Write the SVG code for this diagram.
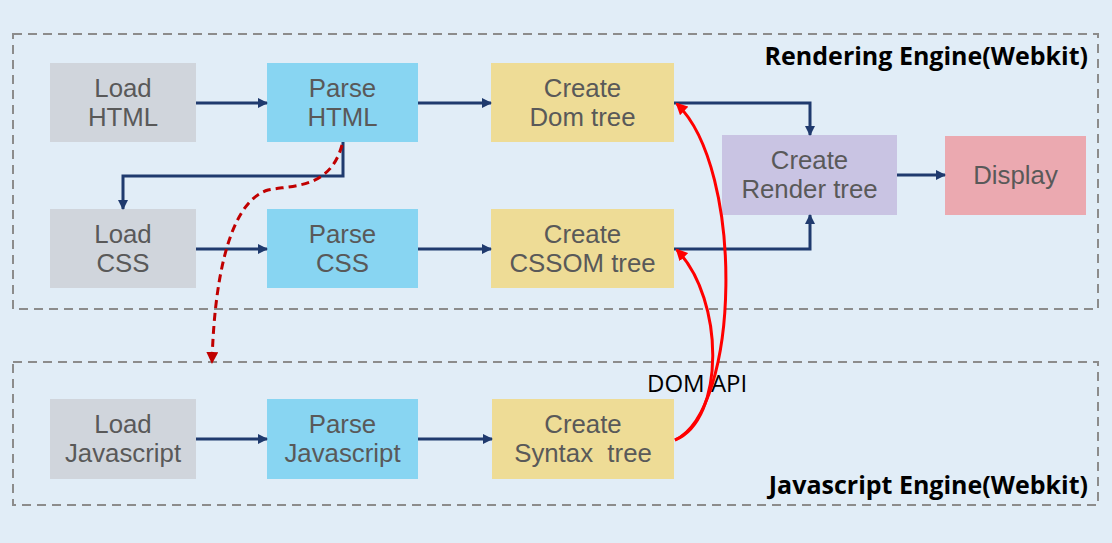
<svg xmlns="http://www.w3.org/2000/svg" width="1112" height="543" viewBox="0 0 1112 543">
<defs>
<style>
.frame{fill:none;stroke:#8c8c8c;stroke-width:2;stroke-dasharray:9 6}
.lbl{font-family:"Liberation Sans",Arial,sans-serif;font-size:25.8px;fill:#595959;text-anchor:middle}
.title{font-family:"Open Sans","Noto Sans",sans-serif;font-size:25px;font-weight:bold;fill:#000;text-anchor:end}
.api{font-family:"Open Sans","Noto Sans",sans-serif;font-size:24px;fill:#000}
.load{fill:#d0d5dc}
.parse{fill:#88d5f2}
.create{fill:#eedc96}
.render{fill:#c9c4e3}
.display{fill:#eba9b0}
.c{fill:none;stroke:#1f3a6e;stroke-width:3}
.red{fill:none;stroke:#ff0000;stroke-width:3}
.dash{fill:none;stroke:#c00000;stroke-width:3;stroke-dasharray:8 5}
</style>
<marker id="ah" markerWidth="10" markerHeight="10" refX="9" refY="5" orient="auto" markerUnits="userSpaceOnUse" viewBox="0 0 10 10"><path d="M0,0 L10,5 L0,10 z" fill="#1f3a6e"/></marker>
<marker id="ahr" markerWidth="12" markerHeight="12" refX="10" refY="6" orient="auto" markerUnits="userSpaceOnUse" viewBox="0 0 12 12"><path d="M0,0 L12,6 L0,12 z" fill="#ff0000"/></marker>
<marker id="ahd" markerWidth="12" markerHeight="12" refX="10" refY="6" orient="auto" markerUnits="userSpaceOnUse" viewBox="0 0 12 12"><path d="M0,0 L12,6 L0,12 z" fill="#c00000"/></marker>
</defs>
<rect width="1112" height="543" fill="#e1edf7"/>
<g id="frames">
<rect class="frame" x="13" y="34" width="1085" height="275"/>
<rect class="frame" x="13" y="362" width="1085" height="143"/>
<text class="title" x="1088" y="65">Rendering Engine(Webkit)</text>
<text class="title" x="1088" y="494">Javascript Engine(Webkit)</text>
</g>
<g id="load-html"><rect class="load" x="50" y="63" width="146" height="79"/><text class="lbl" x="123" y="97">Load<tspan x="123" dy="29">HTML</tspan></text></g>
<g id="parse-html"><rect class="parse" x="267" y="63" width="151" height="79"/><text class="lbl" x="342.5" y="97">Parse<tspan x="342.5" dy="29">HTML</tspan></text></g>
<g id="create-dom"><rect class="create" x="491" y="63" width="183" height="79"/><text class="lbl" x="582.5" y="97">Create<tspan x="582.5" dy="29">Dom tree</tspan></text></g>
<g id="render-tree"><rect class="render" x="722" y="135" width="175" height="80"/><text class="lbl" x="809.5" y="169">Create<tspan x="809.5" dy="29">Render tree</tspan></text></g>
<g id="display"><rect class="display" x="945" y="136" width="141" height="79"/><text class="lbl" x="1015.5" y="184">Display</text></g>
<g id="load-css"><rect class="load" x="50" y="209" width="146" height="79"/><text class="lbl" x="123" y="243">Load<tspan x="123" dy="29">CSS</tspan></text></g>
<g id="parse-css"><rect class="parse" x="267" y="209" width="151" height="79"/><text class="lbl" x="342.5" y="243">Parse<tspan x="342.5" dy="29">CSS</tspan></text></g>
<g id="create-cssom"><rect class="create" x="491" y="209" width="183" height="79"/><text class="lbl" x="582.5" y="243">Create<tspan x="582.5" dy="29">CSSOM tree</tspan></text></g>
<g id="load-js"><rect class="load" x="50" y="399" width="146" height="80"/><text class="lbl" x="123" y="433">Load<tspan x="123" dy="29">Javascript</tspan></text></g>
<g id="parse-js"><rect class="parse" x="267" y="399" width="151" height="80"/><text class="lbl" x="342.5" y="433">Parse<tspan x="342.5" dy="29">Javascript</tspan></text></g>
<g id="syntax-tree"><rect class="create" x="492" y="399" width="182" height="80"/><text class="lbl" x="583" y="433" xml:space="preserve">Create<tspan x="583" dy="29">Syntax  tree</tspan></text></g>
<text class="api" x="647" y="392">DOM API</text>
<g id="connectors">
<path class="c" d="M196,103 H267" marker-end="url(#ah)"/>
<path class="c" d="M418,103 H491" marker-end="url(#ah)"/>
<path class="c" d="M674,103 H810 V135" marker-end="url(#ah)"/>
<path class="c" d="M674,249 H810 V215" marker-end="url(#ah)"/>
<path class="c" d="M897,175 H945" marker-end="url(#ah)"/>
<path class="c" d="M343,142 V176 H123 V209" marker-end="url(#ah)"/>
<path class="c" d="M196,249 H267" marker-end="url(#ah)"/>
<path class="c" d="M418,249 H491" marker-end="url(#ah)"/>
<path class="c" d="M196,439 H267" marker-end="url(#ah)"/>
<path class="c" d="M418,439 H492" marker-end="url(#ah)"/>
<path class="dash" d="M342,145 C330,190 290,185 268,190 C235,200 215,260 212,362" marker-end="url(#ahd)"/>
<path class="red" d="M675,440 C740,410 745,170 677,104" marker-end="url(#ahr)"/>
<path class="red" d="M675,440 C725,420 725,300 677,250" marker-end="url(#ahr)"/>
</g>
</svg>
